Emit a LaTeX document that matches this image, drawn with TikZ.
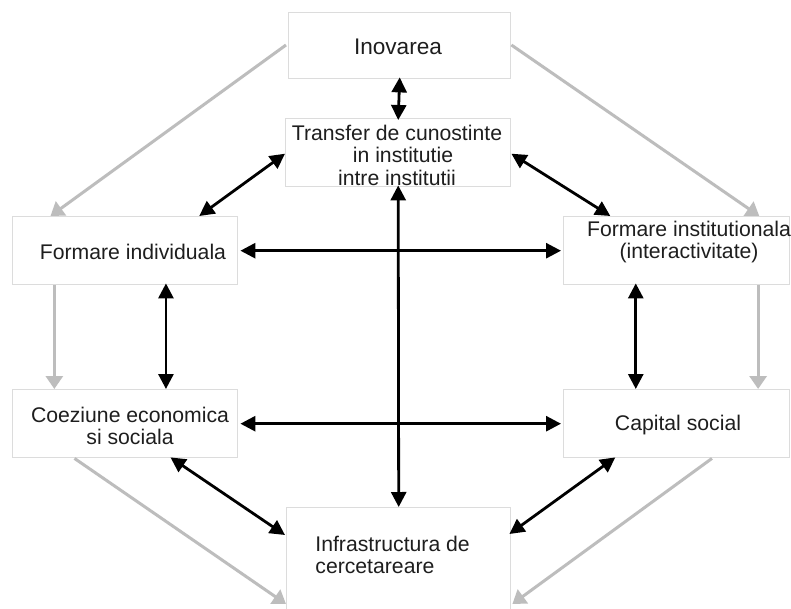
\documentclass[tikz,border=0pt]{standalone}
\usepackage{fontspec}
\setmainfont{Liberation Sans}
\usetikzlibrary{arrows.meta,calc}
\definecolor{boxgray}{HTML}{DCDCDC}
\definecolor{flowgray}{HTML}{BDBDBD}
\definecolor{txtcol}{HTML}{1E1E1E}
\tikzset{
  box/.style={draw=boxgray, line width=0.7pt, fill=white, anchor=north west, inner sep=0pt},
  txt/.style={font=\fontsize{10.6pt}{11.25pt}\selectfont, align=center, inner sep=0pt, text=txtcol},
  link/.style={line width=1.4pt, {Triangle[length=7.5pt,width=7.5pt]}-{Triangle[length=7.5pt,width=7.5pt]}},
  flow/.style={draw=flowgray, line width=1.5pt, -{Triangle[length=6.5pt,width=8.5pt]}, color=flowgray},
}
\begin{document}
\begin{tikzpicture}[x=0.5pt,y=-0.5pt]
\clip (0,0) rectangle (791,609);
\fill[white] (0,0) rectangle (791,609);

% boxes
\node[box, minimum width=111pt, minimum height=33pt] (ino) at (288,12) {};
\node[box, minimum width=112.5pt, minimum height=34pt] (tr) at (285,118) {};
\node[box, minimum width=112.5pt, minimum height=34pt] (fi) at (12,216) {};
\node[box, minimum width=113pt, minimum height=34pt] (fin) at (563,216) {};
\node[box, minimum width=112.5pt, minimum height=34pt] (co) at (12,389) {};
\node[box, minimum width=113pt, minimum height=34pt] (cs) at (563,389) {};
\node[box, minimum width=112pt, minimum height=60pt] (inf) at (286,507) {};

% texts
\node[txt, font=\fontsize{11.3pt}{12pt}\selectfont] (inoT) at (398,47) {Inovarea};
\node[txt] (trT) at (397,155) {Transfer de cunostinte\\\hspace*{6pt}in institutie\\intre institutii};
\node[txt] (fiT) at (133,252) {Formare individuala};
\node[txt] (finT) at (689,242) {Formare institutionala\\(interactivitate)};
\node[txt] (coT) at (130,426) {Coeziune economica\\si sociala};
\node[txt] (csT) at (678,425) {Capital social};
\node[txt, align=left, anchor=west] (infT) at (315,555) {Infrastructura de\\cercetareare};

% gray flow arrows
\draw[flow] ($(ino.north west)+(-2,33)$) -- ($(fi.north west)!0.17!(fi.north east)$);
\draw[flow] ($(ino.north east)+(0,33)$) -- ($(fin.north west)!0.863!(fin.north east)$);
\draw[flow] ($(fi.south west)!0.187!(fi.south east)$) -- ($(co.north west)!0.187!(co.north east)$);
\draw[flow] ($(fin.south west)!0.858!(fin.south east)$) -- ($(cs.north west)!0.858!(cs.north east)$);
\draw[flow] ($(co.south west)!0.276!(co.south east)$) -- ($(inf.north west)+(0,97)$);
\draw[flow] ($(cs.south west)!0.655!(cs.south east)$) -- ($(inf.north east)+(1,97)$);

% black links
\draw[link] ($(ino.south)+(0,-2)$) -- ($(tr.north)+(0,2)$);
\draw[link] ($(tr.south)+(0,-2)$) -- ($(inf.north)+(0,0)$);
\draw[link] ($(fi.east)+(2,0)$) -- ($(fin.west)+(-2,0)$);
\draw[link] ($(co.east)+(2,0)$) -- ($(cs.west)+(-2,0)$);
\draw[link] ($(fi.south west)!0.68!(fi.south east)+(0,-2)$) -- ($(co.north west)!0.68!(co.north east)$);
\draw[link] ($(fin.south west)!0.32!(fin.south east)+(0,-2)$) -- ($(cs.north west)!0.32!(cs.north east)$);
\draw[link] ($(tr.west)+(0,1)$) -- ($(fi.north west)!0.827!(fi.north east)$);
\draw[link] ($(tr.east)+(0,1)$) -- ($(fin.north west)!0.208!(fin.north east)$);
\draw[link] ($(co.south west)!0.70!(co.south east)+(0,-1)$) -- ($(inf.north west)+(-1,28)$);
\draw[link] ($(cs.south west)!0.23!(cs.south east)+(0,-1)$) -- ($(inf.north east)+(-2,27)$);
\end{tikzpicture}
\end{document}
